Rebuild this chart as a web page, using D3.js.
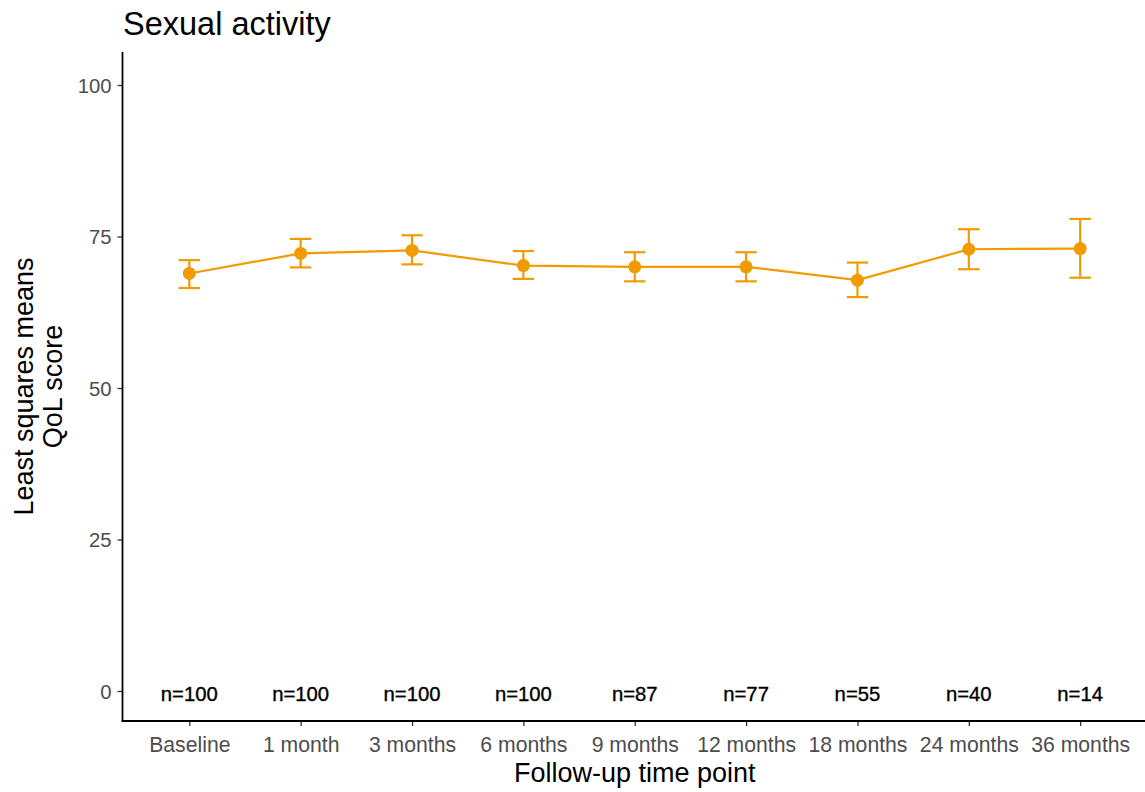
<!DOCTYPE html>
<html>
<head>
<meta charset="utf-8">
<script src="https://cdn.jsdelivr.net/npm/d3@7/dist/d3.min.js"></script>
<style>
body{margin:0;background:#fff;}
svg{display:block;font-family:"Liberation Sans",Arial,sans-serif;}
</style>
</head>
<body>
<svg id="chart" width="1145" height="792"></svg>
<script>
const categories = ["Baseline","1 month","3 months","6 months","9 months","12 months","18 months","24 months","36 months"];
const means = [68.9, 72.2, 72.7, 70.2, 70.0, 70.0, 67.8, 72.9, 73.0];
const upper = [71.1, 74.6, 75.2, 72.6, 72.4, 72.4, 70.7, 76.2, 77.9];
const lower = [66.5, 69.9, 70.4, 68.0, 67.6, 67.6, 65.0, 69.6, 68.2];
const nLabels = ["n=100","n=100","n=100","n=100","n=87","n=77","n=55","n=40","n=14"];
const yTicks = [0,25,50,75,100];

const color = "#F09B00";
const svg = d3.select("#chart");
const panel = {left:122.5, right:1147, top:52, bottom:721};
const step = (panel.right - panel.left) / (categories.length - 1 + 1.2);
const x = d3.scalePoint().domain(categories)
  .range([panel.left + 0.6*step, panel.right - 0.6*step]);
const y = d3.scaleLinear().domain([0,100]).range([691, 85]);

// axes
const yAxis = svg.append("g").attr("transform",`translate(${panel.left},0)`)
  .call(d3.axisLeft(y).tickValues(yTicks).tickSize(5).tickPadding(6));
yAxis.select(".domain").remove();
yAxis.selectAll(".tick line").attr("stroke","#333").attr("stroke-width",1.3);
yAxis.selectAll(".tick text").attr("fill","#4D4D4D").style("font-size","20.3px").attr("dy","0.36em");

const xAxis = svg.append("g").attr("transform",`translate(0,${panel.bottom})`)
  .call(d3.axisBottom(x).tickSize(5).tickPadding(6));
xAxis.select(".domain").remove();
xAxis.selectAll(".tick line").attr("stroke","#333").attr("stroke-width",1.3);
xAxis.selectAll(".tick text").attr("fill","#4D4D4D").style("font-size","21.2px").attr("y",31).attr("dy","0");

// axis lines
svg.append("line").attr("x1",panel.left).attr("x2",panel.left).attr("y1",panel.top).attr("y2",panel.bottom+0.8)
  .attr("stroke","#000").attr("stroke-width",1.8);
svg.append("line").attr("x1",panel.left-0.8).attr("x2",panel.right).attr("y1",panel.bottom).attr("y2",panel.bottom)
  .attr("stroke","#000").attr("stroke-width",1.8);

// n labels
svg.append("g").selectAll("text").data(categories).join("text")
  .attr("x",d=>x(d)).attr("y",y(0)+9.5)
  .attr("text-anchor","middle").style("font-size","20.3px").attr("fill","#000")
  .style("stroke","#000").style("stroke-width","0.35px")
  .text((d,i)=>nLabels[i]);

// line
const line = d3.line().x((d,i)=>x(categories[i])).y(d=>y(d));
svg.append("path").datum(means).attr("d",line).attr("fill","none").attr("stroke",color).attr("stroke-width",2.2);

// error bars
const cap = 10.7;
const eb = svg.append("g").attr("stroke",color).attr("stroke-width",2.2).attr("fill","none");
categories.forEach((c,i)=>{
  const cx = x(c);
  eb.append("line").attr("x1",cx).attr("x2",cx).attr("y1",y(upper[i])).attr("y2",y(lower[i]));
  eb.append("line").attr("x1",cx-cap).attr("x2",cx+cap).attr("y1",y(upper[i])).attr("y2",y(upper[i]));
  eb.append("line").attr("x1",cx-cap).attr("x2",cx+cap).attr("y1",y(lower[i])).attr("y2",y(lower[i]));
});

// points
svg.append("g").selectAll("circle").data(means).join("circle")
  .attr("cx",(d,i)=>x(categories[i])).attr("cy",d=>y(d)).attr("r",6.5).attr("fill",color);

// titles
svg.append("text").attr("x",123).attr("y",35).style("font-size","32.5px").attr("fill","#000").text("Sexual activity");
svg.append("text").attr("x",(panel.left+panel.right)/2).attr("y",782).attr("text-anchor","middle")
  .style("font-size","27px").attr("fill","#000").text("Follow-up time point");
const yt = svg.append("text").attr("transform",`translate(0,${(panel.top+panel.bottom)/2}) rotate(-90)`)
  .attr("text-anchor","middle").style("font-size","27px").attr("fill","#000");
yt.append("tspan").attr("x",0).attr("y",32.5).text("Least squares means");
yt.append("tspan").attr("x",0).attr("y",62).text("QoL score");
</script>
</body>
</html>
